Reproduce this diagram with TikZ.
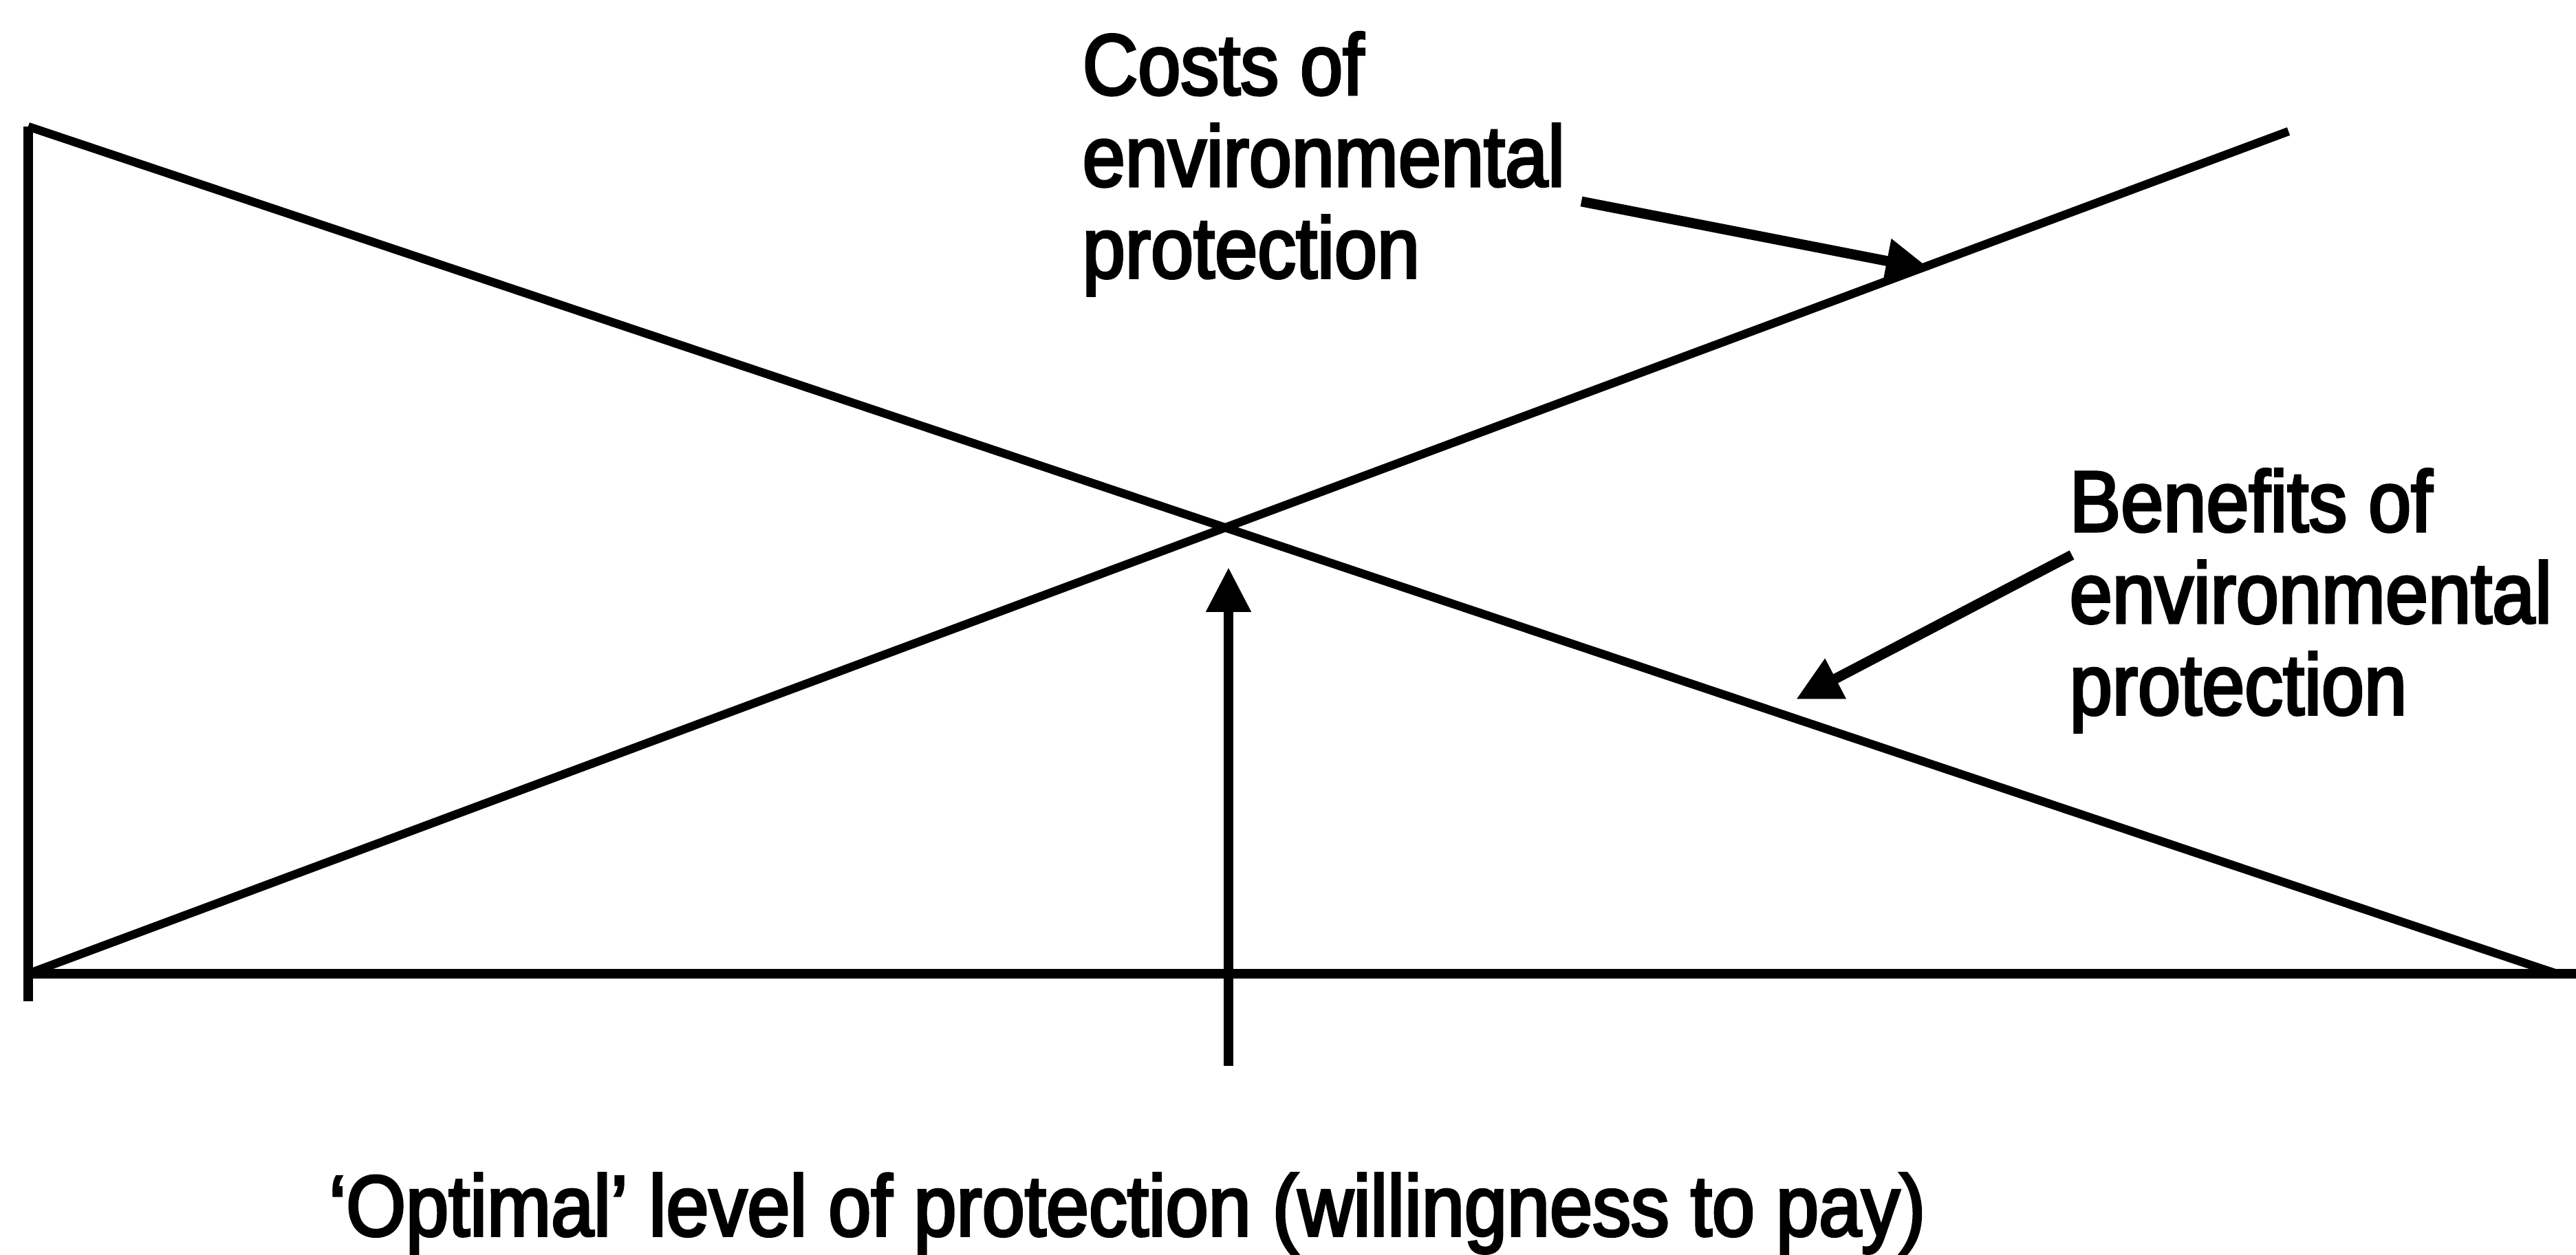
\documentclass[tikz,border=0pt]{standalone}
\usepackage{fontspec}
\setmainfont{Liberation Sans}[FakeStretch=0.89,FakeBold=3]
\usetikzlibrary{arrows.meta}

\begin{document}
\begin{tikzpicture}
                [axis/.style={line width=4.2pt},
                curve/.style={line width=3.5pt},
                arrow/.style={-{Triangle[width=0.62cm,length=0.65cm]},line width=4.2pt},
                lbl/.style={font=\fontsize{35.7}{37.9}\selectfont,align=left,inner sep=0pt},
                ]
                \useasboundingbox (0,0) rectangle (37.45,18.24);
                \coordinate (top) at (0.41,16.4);
                \coordinate (origin) at (0.41,4.08);
                \coordinate (ybot) at (0.41,3.68);
                \coordinate (xend) at (37.45,4.08);
                \coordinate (benend) at (37.17,4.08);
                \coordinate (costend) at (33.27,16.33);
                % axes
                \draw[axis] (top) -- (ybot);
                \draw[axis] (origin) -- (xend);
                % the two lines
                \draw[curve] (top) -- (benend);
                \draw[curve] (origin) -- (costend);
                % labels
                \node[lbl, anchor=north west] (costs) at (15.73,17.78) {Costs of\\environmental\\protection};
                \node[lbl, anchor=north west] (benefits) at (30.08,11.43) {Benefits of\\environmental\\protection};
                \node[lbl, anchor=base] (optimal) at (16.39,0.27) {‘Optimal’ level of protection (willingness to pay)};
                \coordinate (costtail) at (22.99,15.31);
                \coordinate (costtip) at (28.07,14.32);
                \coordinate (bentail) at (30.12,10.17);
                \coordinate (bentip) at (26.11,8.07);
                \coordinate (opttail) at (17.86,2.74);
                \coordinate (opttip) at (17.86,9.99);
                \draw[arrow] (costtail) -- (costtip);
                \draw[arrow] (bentail) -- (bentip);
                \draw[arrow] (opttail) -- (opttip);
\end{tikzpicture}
\end{document}
